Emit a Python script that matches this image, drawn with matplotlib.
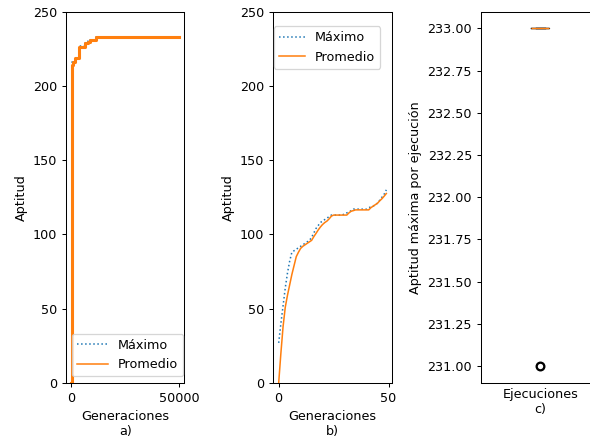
#!/usr/bin/env python3
"""
Fitness evolution of the genetic algorithm: long run, short run and
the max fitness reached in each execution.
"""

import matplotlib
matplotlib.use("Agg")
import matplotlib.pyplot as plt


# ---------- Data -------------------------------------------------------------

# a) long run, read as step breakpoints (generation -> fitness)
gens_a = [0, 100, 200, 300, 450, 750, 1500, 3400, 6500, 7600, 8500, 11300, 50000]
max_a = [30, 170, 200, 210, 216, 217, 219, 227, 229, 230, 231, 233, 233]
avg_a = [0, 140, 190, 205, 214, 216, 218.5, 226, 228.5, 229.5, 231, 233, 233]

# b) first 50 generations of a short run
gens_b = list(range(50))
max_b = [27, 40, 52, 64, 74, 82, 88, 89, 90, 91,
         92, 93, 94, 95, 96, 98, 101, 104, 106, 108,
         109, 110, 111, 112, 113, 113, 113, 113, 113, 113,
         114, 114.5, 115, 116, 117, 117, 117, 117, 117, 117,
         117, 118, 118.5, 119, 120, 121, 123, 125, 127, 130]
avg_b = [0, 20, 38, 51, 59, 66, 73, 79, 85, 88,
         90.6, 92, 93, 94, 95, 96, 98.5, 100.7, 103, 105,
         106.7, 108, 109, 110.5, 112.3, 113, 113, 113, 113, 113,
         113, 113, 114.5, 115.6, 116, 116.5, 116.5, 116.5, 116.5, 116.5,
         116.5, 116.5, 118, 119, 120, 121, 122.6, 124, 125.7, 127.5]

# c) best fitness of every execution
best_per_run = [233, 233, 233, 233, 233, 233, 233, 233, 233, 231]

fitness_ticks = [0, 50, 100, 150, 200, 250]


# ---------- Layout -----------------------------------------------------------

W, H, DPI = 590, 441, 92
fig = plt.figure(figsize=(W / DPI, H / DPI), dpi=DPI)


def px_axes(left, right, top=11.5, bottom=383):
    """Axes from pixel edges (origin top-left)."""
    return fig.add_axes([left / W, (H - bottom) / H,
                         (right - left) / W, (bottom - top) / H])


ax_a = px_axes(66, 184.3)
ax_b = px_axes(273.3, 391.7)
ax_c = px_axes(481, 599.4)

# ---------- a) ---------------------------------------------------------------

ax_a.plot(gens_a, max_a, ":", lw=1.2, drawstyle="steps-post", label="Máximo")
ax_a.plot(gens_a, avg_a, "-", lw=2.4, drawstyle="steps-post", label="Promedio")
ax_a.set_ylim(0, 250)
ax_a.set_yticks(fitness_ticks)
ax_a.set_xticks([0, 50000])
ax_a.set_xlabel("Generaciones\na)")
ax_a.set_ylabel("Aptitud")
leg = ax_a.legend(loc="lower right", bbox_to_anchor=(0.99, 0.018),
                  borderaxespad=0, handlelength=2.4)
leg.get_lines()[1].set_linewidth(1.2)

# ---------- b) ---------------------------------------------------------------

ax_b.plot(gens_b, max_b, ":", lw=1.2, label="Máximo")
ax_b.plot(gens_b, avg_b, "-", lw=1.2, label="Promedio")
ax_b.set_ylim(0, 250)
ax_b.set_yticks(fitness_ticks)
ax_b.set_xticks([0, 50])
ax_b.set_xlabel("Generaciones\nb)")
ax_b.set_ylabel("Aptitud")
ax_b.legend(loc="upper left", bbox_to_anchor=(0.005, 0.96), borderaxespad=0)

# ---------- c) ---------------------------------------------------------------

ax_c.boxplot(best_per_run,
             flierprops=dict(markeredgewidth=1.8, markeredgecolor="black"))
ax_c.set_xticks([])
ax_c.set_xlabel("Ejecuciones\nc)")
ax_c.set_ylabel("Aptitud máxima por ejecución")

fig.savefig("out.png", dpi=DPI)
